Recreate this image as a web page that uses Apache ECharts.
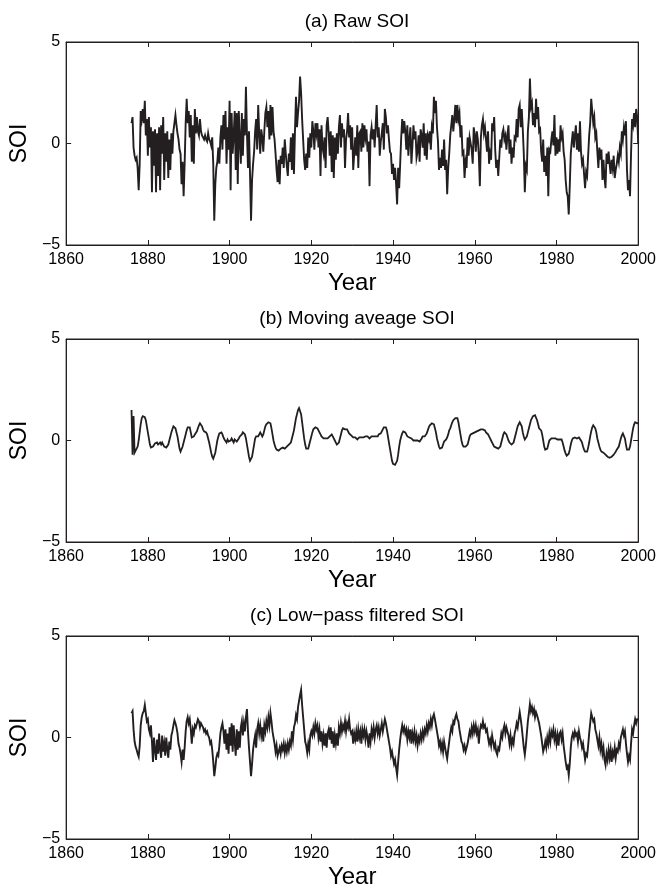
<!DOCTYPE html>
<html><head><meta charset="utf-8">
<script src="https://cdn.jsdelivr.net/npm/echarts@6/dist/echarts.min.js"></script>
<style>html,body{margin:0;background:#fff}#c{width:659px;height:891px}</style>
</head><body><div id="c"></div>
<script>
// quarterly samples starting 1876.0
const startYear = 1876;
const step = 0.25;
const panelTitles = ['(a) Raw SOI', '(b) Moving aveage SOI', '(c) Low\u2212pass filtered SOI'];
const yearRange = [1860, 2000];
const yearInterval = 20;
const soiRange = [-5, 5];
const soiInterval = 5;

const rawSOI = [
1.0,1.3,-0.2,-0.6, -0.8,-0.7,-1.2,-2.3, -1.0,1.6,1.2,1.7, 1.0,2.1,0.4,1.2, -0.6,1.3,-0.2,0.8,
-2.4,0.6,-1.1,0.7, -2.4,0.5,-1.6,0.8, -2.3,0.9,-0.5,1.3, -1.8,0.5,-0.9,0.6, -1.7,0.2,-1.3,0.5,
-0.5,0.6,1.0,1.4, 0.9,0.5,0.2,-0.3, -0.5,-2.0,-0.9,-2.6, -1.0,1.0,2.2,1.0, 1.6,0.3,1.4,-0.9,
0.9,-1.0,1.7,0.5, 1.3,0.6,0.4,1.2, 0.6,0.4,0.3,0.2, 0.4,0.2,0.1,0.5, 0.2,0.1,-0.1,0.3,
-1.0,-3.8,-2.0,-1.2, -0.9,-0.2,-1.0,0.3, 0.9,-0.3,1.4,0.2, 1.6,-1.0,0.8,-0.3, 2.1,-2.3,1.5,-0.5,
0.4,1.6,-1.3,1.5, -2.0,1.6,0.2,-1.0, 1.5,-0.6,1.2,0.4, 2.8,0.5,-1.2,0.6, -1.5,-3.8,-1.8,-1.0,
-0.4,0.6,1.2,-0.3, 1.9,0.5,-0.5,0.7, 0.3,-0.4,0.6,1.5, 1.8,0.8,1.6,0.2, 1.9,0.4,1.8,0.6,
0.2,-0.5,-1.3,-1.9, -0.8,-2.0,-0.6,-1.0, -0.2,-1.2,0.2,-0.5, -1.1,-1.6,-0.5,-0.9, 0.3,-1.3,0.5,-1.5,
0.6,2.3,0.8,1.5, 2.1,3.3,2.5,1.2, 0.2,-0.8,-1.3,-0.5, -1.2,0.3,-0.7,0.5, -0.2,1.1,0.6,-0.3,
1.0,0.5,1.0,-0.2, 0.7,-1.6,0.9,-0.2, -0.5,0.3,-1.2,0.9, 1.3,0.5,-0.6,0.6, -1.4,0.4,-1.7,0.3,
-0.8,0.5,-0.5,0.8, 1.4,-0.2,1.0,0.3, 0.7,-1.2,0.2,0.6, 1.5,0.3,0.9,-0.3, 0.8,-1.3,-0.5,0.3,
-0.6,0.9,-1.2,0.5, 0.6,-0.4,1.0,-0.2, 0.9,0.3,0.7,-0.4, 0.1,-2.1,0.4,0.8, 0.2,0.7,-0.2,0.9,
1.9,0.3,0.8,-0.6, 0.1,0.5,1.0,-0.3, 1.7,1.3,0.5,0.9, 0.2,-0.4,-0.5,-1.5, -1.0,-1.8,-1.2,-2.0,
-3.0,-1.2,-2.2,-1.0, 0.3,1.2,0.5,1.1, 0.6,-0.3,0.9,-0.6, 0.2,0.8,-1.0,-0.1, 0.9,0.2,0.6,-0.7,
-0.4,0.4,-0.9,0.7, 0.4,-0.2,1.0,-0.6, 0.5,-0.8,0.4,0.2, 0.6,-0.3,0.8,0.5, 2.3,1.5,2.1,0.8,
0.1,-1.3,-0.7,-1.2, -0.3,-1.1,0.2,-1.3, -0.8,-2.5,-1.2,-0.5, 0.4,0.9,1.4,0.6, 1.2,1.9,1.0,1.9,
1.2,1.5,0.3,0.9, -0.5,-0.4,-1.7,-0.9, -1.2,0.3,-0.6,0.3, 0.3,-0.3,-1.0,0.8, 0.4,-0.4,0.6,0.2,
-0.6,-2.1,0.3,0.9, 1.2,0.5,0.8,0.2, -0.4,0.6,-1.0,-0.5, -0.8,1.0,0.6,1.3, -0.3,-1.2,-0.8,-1.6,
-0.7,0.2,-0.2,0.5, 0.7,0.2,0.4,-0.3, 0.4,0.9,-0.5,0.2, -1.0,-0.2,-0.7,0.3, 0.2,1.2,0.3,1.7,
1.9,0.8,1.7,0.7, -0.5,-2.4,-1.1,-1.3, 0.6,1.3,3.2,1.8, 2.0,0.9,1.5,0.8, 2.2,1.2,1.8,0.6,
0.7,-0.4,-0.9,0.2, -1.4,-0.6,-1.6,-0.2, -2.6,-0.3,-0.4,0.2, 0.6,-0.1,1.4,-0.6, 0.3,-0.5,0.2,-0.4,
0.9,0.3,0.5,-0.4, -0.8,-1.8,-2.4,-2.6, -3.5,-2.1,-0.5,0.1, 0.6,-0.2,0.4,0.9, -0.3,0.5,-0.4,1.1,
-0.4,-1.0,-0.8,-1.5, -2.2,-1.4,-1.6,-0.6, 0.4,1.0,2.2,1.6, 1.0,1.3,0.3,0.5, -0.4,-1.2,-0.2,-0.8,
-0.3,-1.8,-0.8,-1.7, -2.2,-0.5,-1.0,-0.4, -1.0,-1.5,-0.8,-1.2, -0.6,-1.7,-1.3,-1.0, -0.6,-0.9,-0.2,-0.5,
0.6,0.2,0.8,0.4, 1.1,-1.3,-2.3,-1.8, -2.6,-0.5,1.2,0.9, 1.5,0.8,1.7,1.3,
0.0
];

const maSOI = [
1.5,-0.7,1.2,-0.6, -0.5,-0.45,-0.3,0.0, 0.4,0.8,1.1,1.2, 1.2,1.15,1.0,0.7, 0.4,0.1,-0.2,-0.35,
-0.4,-0.3,-0.25,-0.15, -0.2,-0.1,-0.2,-0.15, -0.1,-0.2,-0.1,-0.2, -0.3,-0.25,-0.35,-0.3, -0.2,0.0,0.2,0.4,
0.55,0.7,0.7,0.6, 0.4,0.2,-0.1,-0.4, -0.55,-0.5,-0.3,-0.1, 0.1,0.3,0.5,0.65, 0.7,0.65,0.4,0.15,
0.1,0.2,0.3,0.35, 0.45,0.6,0.75,0.85, 0.85,0.7,0.55,0.45, 0.45,0.4,0.3,0.1, -0.1,-0.35,-0.6,-0.8,
-0.9,-0.85,-0.6,-0.3, 0.0,0.2,0.35,0.4, 0.4,0.3,0.15,0.05, 0.0,-0.1,0.05,-0.05, -0.1,0.0,0.1,0.0,
-0.1,0.05,0.1,-0.05, 0.0,0.1,0.2,0.25, 0.3,0.4,0.45,0.3, 0.1,-0.2,-0.5,-0.8, -1.0,-1.0,-0.8,-0.5,
-0.2,0.1,0.2,0.15, 0.2,0.3,0.4,0.3, 0.2,0.3,0.5,0.7, 0.8,0.85,0.9,0.9, 0.85,0.6,0.3,0.0,
-0.2,-0.35,-0.45,-0.5, -0.5,-0.45,-0.4,-0.4, -0.35,-0.4,-0.4,-0.35, -0.3,-0.25,-0.2,-0.15, -0.1,0.1,0.3,0.5,
0.8,1.1,1.3,1.5, 1.6,1.55,1.3,0.9, 0.5,0.1,-0.2,-0.4, -0.45,-0.4,-0.2,0.0, 0.2,0.4,0.55,0.6,
0.65,0.65,0.6,0.5, 0.4,0.3,0.2,0.15, 0.1,0.1,0.1,0.05, 0.1,0.15,0.2,0.25, 0.3,0.25,0.1,0.0,
-0.1,-0.2,-0.2,-0.1, 0.1,0.3,0.5,0.6, 0.6,0.55,0.6,0.55, 0.45,0.35,0.3,0.25, 0.2,0.15,0.2,0.15,
0.1,0.05,0.1,0.15, 0.2,0.15,0.1,0.15, 0.15,0.2,0.15,0.2, 0.15,0.1,0.15,0.2, 0.15,0.2,0.15,0.2,
0.25,0.2,0.3,0.3, 0.35,0.45,0.55,0.65, 0.7,0.65,0.5,0.2, -0.1,-0.4,-0.7,-1.0, -1.15,-1.2,-1.2,-1.15,
-1.0,-0.7,-0.3,0.0, 0.2,0.35,0.45,0.45, 0.4,0.3,0.2,0.2, 0.15,0.2,0.1,0.05, 0.0,-0.05,0.0,0.05,
0.0,-0.05,-0.05,0.0, 0.1,0.2,0.15,0.2, 0.25,0.35,0.5,0.65, 0.75,0.8,0.85,0.85, 0.8,0.6,0.4,0.1,
-0.1,-0.3,-0.4,-0.4, -0.35,-0.2,-0.05,0.0, 0.05,0.15,0.3,0.5, 0.6,0.75,0.9,1.0, 1.05,1.1,1.1,1.1,
0.9,0.6,0.3,0.0, -0.2,-0.3,-0.3,-0.3, -0.3,-0.2,0.0,0.2, 0.3,0.35,0.35,0.4, 0.4,0.45,0.45,0.5,
0.5,0.5,0.55,0.55, 0.55,0.55,0.5,0.4, 0.35,0.3,0.2,0.1, 0.0,-0.1,-0.2,-0.3, -0.35,-0.35,-0.4,-0.4,
-0.4,-0.3,-0.1,0.1, 0.3,0.4,0.4,0.3, 0.15,0.0,-0.1,-0.15, -0.2,-0.2,-0.1,0.1, 0.3,0.5,0.7,0.8,
0.9,0.9,0.7,0.4, 0.2,0.05,0.0,0.2, 0.4,0.6,0.8,1.0, 1.1,1.2,1.25,1.25, 1.2,1.0,0.8,0.6,
0.55,0.5,0.3,0.0, -0.3,-0.45,-0.5,-0.4, -0.2,0.0,0.05,0.1, 0.1,0.1,0.05,0.1, 0.1,0.05,0.1,0.05,
0.1,0.05,-0.1,-0.3, -0.5,-0.65,-0.75,-0.75, -0.65,-0.45,-0.2,0.0, 0.1,0.15,0.15,0.1, 0.1,0.15,0.15,0.1,
0.0,-0.1,-0.3,-0.45, -0.55,-0.6,-0.55,-0.35, -0.1,0.2,0.45,0.65, 0.75,0.75,0.6,0.4, 0.1,-0.1,-0.3,-0.45,
-0.55,-0.6,-0.6,-0.65, -0.7,-0.75,-0.8,-0.85, -0.85,-0.8,-0.8,-0.75, -0.7,-0.65,-0.55,-0.45, -0.4,-0.3,-0.1,0.1,
0.25,0.35,0.3,0.1, -0.2,-0.45,-0.5,-0.45, -0.3,0.0,0.3,0.6, 0.8,0.9,0.85,0.85,
0.85
];

const lpSOI = [
1.2,1.3,0.4,-0.2, -0.45,-0.6,-0.8,-0.95, -0.4,0.6,1.0,1.2, 1.3,1.6,1.2,0.8, 0.9,0.4,0.2,0.6,
-0.2,-1.2,0.0,-0.6, -1.1,-0.1,-0.8,0.2, -0.6,-1.0,0.1,-0.7, -0.3,-0.9,0.0,-0.6, -1.0,-0.2,-0.6,0.1,
0.3,0.6,0.85,0.7, 0.5,0.2,-0.3,-0.5, -0.8,-1.2,-0.6,-1.1, -0.5,0.3,0.8,1.0, 0.7,0.9,0.4,-0.3,
0.4,0.2,0.6,0.5, 0.7,0.9,0.8,0.5, 0.7,0.6,0.5,0.3, 0.4,0.2,0.3,0.1, 0.0,-0.3,-0.2,-0.6,
-1.2,-1.9,-1.5,-1.0, -0.8,-0.9,-0.4,0.2, 0.5,0.7,0.3,-0.3, 0.4,-0.6,0.2,-0.8, 0.5,-0.4,0.7,-0.7,
0.6,-0.2,-0.9,0.4, -0.6,0.3,-0.5,0.5, 0.8,0.1,0.7,0.3, 1.0,1.4,0.3,-0.5, -1.2,-1.9,-1.3,-0.6,
-0.2,0.1,-0.5,0.4, 0.7,0.2,0.6,0.1, 0.5,-0.2,0.6,0.3, 0.8,0.5,1.0,0.6, 1.2,0.8,0.3,0.0,
-0.3,-0.7,-0.4,-0.9, -0.95,-0.5,-0.8,-0.4, -0.6,-0.3,-0.75,-0.4, -0.7,-0.3,-0.6,-0.2, -0.4,0.3,-0.1,0.5,
0.7,1.1,0.9,1.5, 1.8,2.1,2.35,1.6, 1.0,0.4,-0.2,-0.4, -0.75,-0.3,-0.6,0.1, 0.3,0.1,0.5,0.2,
0.7,0.4,0.6,0.0, 0.4,-0.2,0.3,-0.3, 0.1,-0.4,0.2,-0.5, 0.2,0.4,-0.1,0.5, -0.3,0.3,-0.5,0.1,
-0.3,0.2,-0.4,0.5, 0.2,0.7,0.3,0.6, 0.4,0.8,0.3,0.7, 0.5,0.9,0.4,0.2, 0.3,-0.3,0.2,-0.1,
0.3,-0.2,0.4,0.0, 0.3,-0.3,0.4,0.1, 0.4,-0.1,0.3,0.0, -0.5,0.2,-0.2,0.4, 0.1,0.5,0.0,0.4,
0.6,0.2,0.5,0.1, 0.4,0.7,0.3,0.6, 0.9,0.7,0.4,0.1, -0.2,-0.5,-0.9,-0.7, -1.0,-1.3,-1.1,-1.5,
-1.85,-1.2,-0.6,-0.1, 0.3,0.6,0.3,0.5, 0.2,0.4,-0.1,0.3, 0.0,0.4,-0.3,0.2, -0.1,0.3,-0.2,0.1,
-0.4,0.0,-0.2,0.2, -0.1,0.3,0.0,0.4, 0.2,0.6,0.3,0.7, 0.5,0.9,0.6,1.0, 1.15,0.9,0.6,0.3,
0.0,-0.4,-0.2,-0.6, -0.3,-0.7,-0.2,-0.5, -0.8,-1.05,-0.6,-0.2, 0.2,0.5,0.3,0.8, 0.7,1.0,1.15,0.9,
0.8,0.4,0.1,-0.2, -0.3,-0.6,-0.4,-0.7, -0.5,-0.3,0.0,0.3, 0.1,0.5,0.2,0.6, 0.3,0.6,0.2,0.4,
-0.3,0.3,0.6,0.5, 0.8,0.5,0.6,0.3, 0.4,0.0,-0.3,-0.1, -0.4,0.1,-0.2,-0.5, -0.3,-0.7,-0.85,-0.5,
-0.6,-0.2,0.2,0.0, 0.4,0.6,0.2,0.5, 0.3,0.1,-0.3,0.1, -0.4,-0.1,-0.3,0.2, 0.4,0.7,0.5,0.9,
1.25,0.9,0.5,0.0, -0.5,-0.85,-0.4,0.2, 0.8,1.2,1.65,1.3, 1.5,1.2,1.4,1.0, 1.25,1.1,0.9,0.7,
0.4,0.1,-0.3,-0.7, -0.5,-0.2,-0.5,0.0, -0.3,0.2,-0.2,0.3, 0.1,0.4,-0.1,0.2, -0.3,0.1,-0.4,0.2,
0.3,-0.1,0.2,-0.4, -0.8,-1.2,-1.5,-1.4, -1.85,-1.3,-0.5,0.0, 0.2,0.0,0.3,0.1, 0.2,-0.2,0.3,0.0,
-0.2,-0.5,-0.3,-0.7, -1.1,-0.8,-0.9,-0.4, 0.2,0.7,1.2,1.0, 0.8,0.9,0.4,0.2, -0.1,-0.4,0.0,-0.6,
-0.3,-0.8,-0.5,-1.1, -1.35,-0.8,-1.1,-0.6, -1.0,-0.6,-1.2,-0.7, -0.9,-0.5,-1.0,-0.6, -0.7,-0.3,-0.5,0.0,
0.2,0.4,0.1,0.3, -0.3,-0.8,-1.2,-0.9, -1.1,-0.3,0.4,0.2, 0.6,0.9,0.7,0.9,
0.9
];

const seriesList = [rawSOI, maSOI, lpSOI];
const toPairs = vals => vals.map((v, i) => [startYear + i * step, v]);

const gridTops = [42, 339, 636];
const gridLeft = 65, gridWidth = 574, gridHeight = 203;
const ink = '#231f20';
const font = 'Liberation Sans, Arial, Helvetica, sans-serif';
const fmtNum = v => (v < 0 ? '\u2212' + Math.abs(v) : String(v));
const lineWidths = [1.9, 1.8, 1.9];

const grids = [], xAxes = [], yAxes = [], series = [], titles = [];
gridTops.forEach((top, i) => {
  grids.push({left: gridLeft, top: top, width: gridWidth, height: gridHeight,
    show: true, borderColor: ink, borderWidth: 1, backgroundColor: '#fff'});
  titles.push({text: panelTitles[i], left: 352, top: top - 35, textAlign: 'center',
    textStyle: {fontFamily: font, fontSize: 19, fontWeight: 'normal', color: '#000'}});
  const common = {type: 'value', min: yearRange[0], max: yearRange[1], interval: yearInterval,
    gridIndex: i, splitLine: {show: false},
    axisLine: {show: true, onZero: false, lineStyle: {color: ink, width: 1}},
    axisTick: {show: true, inside: true, length: 5, lineStyle: {color: ink}}};
  xAxes.push(Object.assign({}, common, {position: 'bottom',
    name: 'Year', nameLocation: 'middle', nameGap: 26,
    nameTextStyle: {fontFamily: font, fontSize: 24, color: '#000'},
    axisLabel: {show: true, margin: 7, fontFamily: font, fontSize: 16, color: '#000', formatter: v => String(v)}}));
  xAxes.push(Object.assign({}, common, {position: 'top', axisLabel: {show: false}}));
  const ycommon = {type: 'value', min: soiRange[0], max: soiRange[1], interval: soiInterval,
    gridIndex: i, splitLine: {show: false},
    axisLine: {show: true, onZero: false, lineStyle: {color: ink, width: 1}},
    axisTick: {show: true, inside: true, length: 5, lineStyle: {color: ink}}};
  yAxes.push(Object.assign({}, ycommon, {position: 'left',
    name: 'SOI', nameLocation: 'middle', nameGap: 32, nameRotate: 90,
    nameTextStyle: {fontFamily: font, fontSize: 23, color: '#000'},
    axisLabel: {show: true, margin: 6, fontFamily: font, fontSize: 16, color: '#000', formatter: fmtNum}}));
  yAxes.push(Object.assign({}, ycommon, {position: 'right', axisLabel: {show: false}}));
  series.push({type: 'line', xAxisIndex: 2 * i, yAxisIndex: 2 * i,
    data: toPairs(seriesList[i]), showSymbol: false, symbol: 'none',
    lineStyle: {color: ink, width: lineWidths[i], join: 'miter'}, z: 3});
});

const chart = echarts.init(document.getElementById('c'), null, {renderer: 'canvas'});
chart.setOption({
  animation: false,
  backgroundColor: '#fff',
  title: titles,
  grid: grids,
  xAxis: xAxes,
  yAxis: yAxes,
  series: series
});
</script>
</body></html>
